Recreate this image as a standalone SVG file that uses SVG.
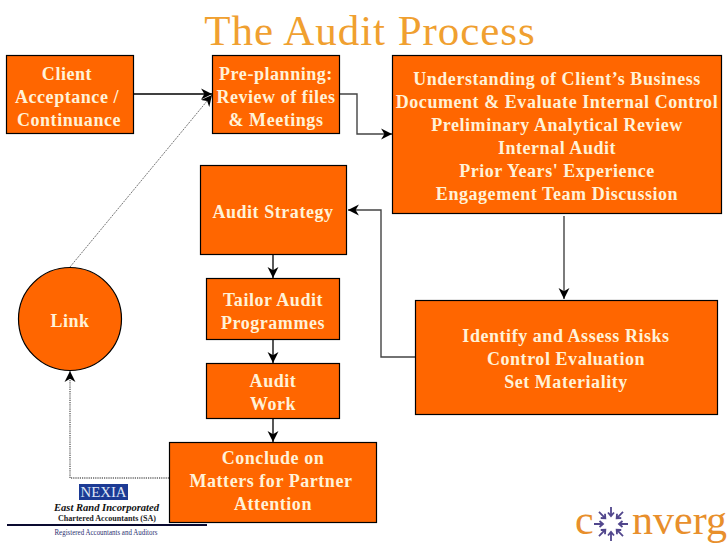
<svg xmlns="http://www.w3.org/2000/svg" width="728" height="546" viewBox="0 0 728 546">
<style>
.n{fill:#ff6600;stroke:#000;stroke-width:1.2}
.t{font-family:"Liberation Serif",serif;font-weight:bold;font-size:18px;fill:#fff2d8;text-anchor:middle;letter-spacing:.55px;transform:translateY(.7px)}
.c{fill:none;stroke:#444;stroke-width:1.4}
.d{fill:none;stroke:#666;stroke-width:1.4;stroke-dasharray:1.2 1}
.k{fill:none;stroke:#000;stroke-width:1.3}
</style>
<defs>
<marker id="a" markerUnits="userSpaceOnUse" markerWidth="12" markerHeight="12" refX="10" refY="5" orient="auto" viewBox="0 0 11 10"><path d="M0 0L10 5L0 10L3 5Z" fill="#000"/></marker>
</defs>
<rect width="728" height="546" fill="#fff"/>
<text x="370" y="45" font-family="'Liberation Serif',serif" font-size="43" fill="#f0a030" text-anchor="middle" letter-spacing=".95">The Audit Process</text>
<g id="connectors">
<path class="k" d="M133 94H212" marker-end="url(#a)"/>
<path class="d" d="M70 267L212 95" marker-end="url(#a)" style="stroke-width:.9;stroke-dasharray:2 1"/>
<path class="c" d="M339 94H357V134H392" marker-end="url(#a)"/>
<path class="c" d="M564 216V299" marker-end="url(#a)"/>
<path class="c" d="M415 357H381V210H348" marker-end="url(#a)"/>
<path class="k" d="M273 254V278" marker-end="url(#a)"/>
<path class="c" d="M273 339V363" marker-end="url(#a)" style="stroke-width:1.8"/>
<path class="c" d="M273 418V442" marker-end="url(#a)" style="stroke-width:1.8"/>
<path class="d" d="M169 478H70V371" marker-end="url(#a)"/>
</g>
<g id="client"><rect class="n" x="6.500" y="55.500" width="127" height="78"/><text class="t"><tspan x="67" y="79">Client</tspan><tspan x="67" y="102">Acceptance /</tspan><tspan x="69" y="125">Continuance</tspan></text></g>
<g id="preplanning"><rect class="n" x="212.500" y="55.500" width="127" height="78"/><text class="t"><tspan x="276" y="79">Pre-planning:</tspan><tspan x="276" y="102">Review of files</tspan><tspan x="276" y="125">&amp; Meetings</tspan></text></g>
<g id="understanding"><rect class="n" x="392.500" y="55.500" width="329" height="158"/><text class="t"><tspan x="557" y="84">Understanding of Client’s Business</tspan><tspan x="557" y="107">Document &amp; Evaluate Internal Control</tspan><tspan x="557" y="130">Preliminary Analytical Review</tspan><tspan x="557" y="153">Internal Audit</tspan><tspan x="557" y="176">Prior Years' Experience</tspan><tspan x="557" y="199">Engagement Team Discussion</tspan></text></g>
<g id="strategy"><rect class="n" x="200.500" y="165.500" width="146" height="89"/><text class="t" x="273" y="217">Audit Strategy</text></g>
<g id="tailor"><rect class="n" x="206.500" y="278.500" width="133" height="61"/><text class="t"><tspan x="273" y="305">Tailor Audit</tspan><tspan x="273" y="328">Programmes</tspan></text></g>
<g id="work"><rect class="n" x="206.500" y="363.500" width="133" height="55"/><text class="t"><tspan x="273" y="386">Audit</tspan><tspan x="273" y="409">Work</tspan></text></g>
<g id="conclude"><rect class="n" x="169.500" y="442.500" width="207" height="80"/><text class="t"><tspan x="273" y="463">Conclude on</tspan><tspan x="271" y="486">Matters for Partner</tspan><tspan x="273" y="509">Attention</tspan></text></g>
<g id="risks"><rect class="n" x="415.500" y="300.500" width="302" height="114"/><text class="t"><tspan x="566" y="341">Identify and Assess Risks</tspan><tspan x="566" y="364">Control Evaluation</tspan><tspan x="566" y="387">Set Materiality</tspan></text></g>
<g id="link"><circle class="n" cx="70" cy="319" r="51.500"/><text class="t" x="70" y="326">Link</text></g>
<g id="nexia-logo">
<rect x="79" y="484" width="49" height="16" fill="#1c3a94"/>
<text x="103.500" y="497" font-family="'Liberation Serif',serif" font-size="14" fill="#dfe6f5" text-anchor="middle" textLength="46" lengthAdjust="spacingAndGlyphs">NEXIA</text>
<text x="106.500" y="511" font-family="'Liberation Serif',serif" font-style="italic" font-weight="bold" font-size="11" fill="#111" text-anchor="middle" textLength="105" lengthAdjust="spacingAndGlyphs">East Rand Incorporated</text>
<text x="107" y="520.500" font-family="'Liberation Serif',serif" font-weight="bold" font-size="8" fill="#222" text-anchor="middle" textLength="98" lengthAdjust="spacingAndGlyphs">Chartered Accountants (SA)</text>
<rect x="7" y="524" width="200" height="2" fill="#0a0a30"/>
<text x="106" y="535" font-family="'Liberation Serif',serif" font-size="7.500" fill="#2a2f70" text-anchor="middle" textLength="103" lengthAdjust="spacingAndGlyphs">Registered Accountants and Auditors</text>
</g>
<g id="converge-logo">
<text x="575" y="534" font-family="'Liberation Serif',serif" font-size="42" fill="#e88f2c">c</text>
<text x="632" y="534" font-family="'Liberation Serif',serif" font-size="42" fill="#e88f2c" textLength="95" lengthAdjust="spacingAndGlyphs">nverg</text>
<g fill="none" stroke="#51468c" stroke-width="1.800">
<g id="sp"><path d="M611 507V516M608 512.500L611 516L614 512.500"/></g>
<use href="#sp" transform="rotate(45 611 524)"/><use href="#sp" transform="rotate(90 611 524)"/><use href="#sp" transform="rotate(135 611 524)"/><use href="#sp" transform="rotate(180 611 524)"/><use href="#sp" transform="rotate(225 611 524)"/><use href="#sp" transform="rotate(270 611 524)"/><use href="#sp" transform="rotate(315 611 524)"/>
</g>
</g>
</svg>
